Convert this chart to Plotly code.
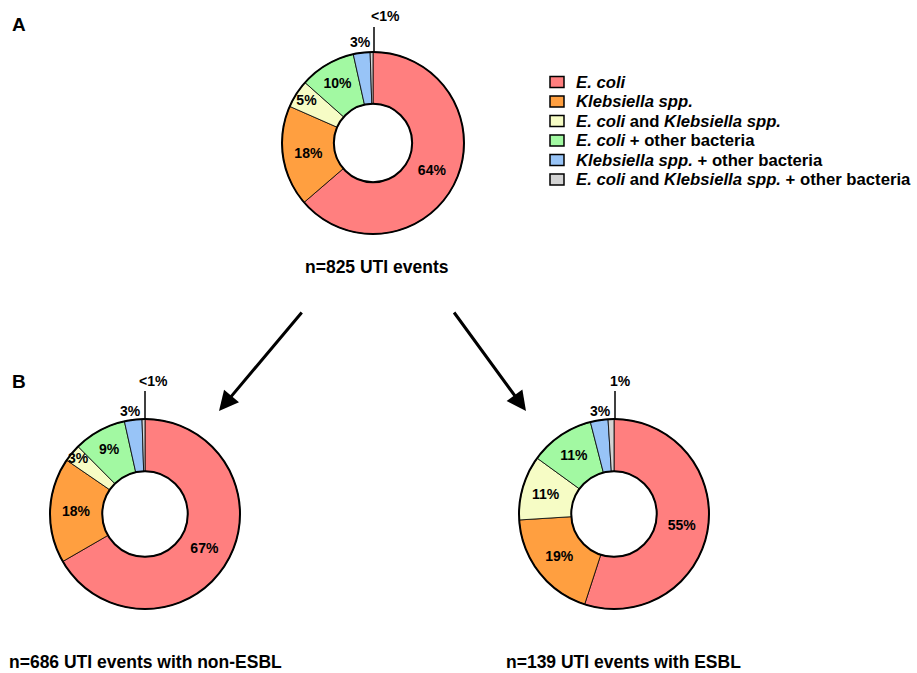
import plotly.graph_objects as go

W, H = 917, 673

labels = [
    "<i>E. coli</i>",
    "<i>Klebsiella spp.</i>",
    "<i>E. coli</i> and <i>Klebsiella spp.</i>",
    "<i>E. coli</i> + other bacteria",
    "<i>Klebsiella spp.</i> + other bacteria",
    "<i>E. coli</i> and <i>Klebsiella spp.</i> + other bacteria",
]
colors = ["#FF7F7F", "#FF9F40", "#F6FCC5", "#A2F9A2", "#98C4F7", "#D4D4D4"]

# percentages
all_vals = [64, 18, 5, 10, 3, 0.5]
all_text = ["64%", "18%", "5%", "10%", "3%", "<1%"]
non_esbl_vals = [67, 18, 3, 9, 3, 0.5]
non_esbl_text = ["67%", "18%", "3%", "9%", "3%", "<1%"]
esbl_vals = [55, 19, 11, 11, 3, 1]
esbl_text = ["55%", "19%", "11%", "11%", "3%", "1%"]

titles = ["n=825 UTI events", "n=686 UTI events with non-ESBL", "n=139 UTI events with ESBL"]

FONT = "Liberation Sans, Arial, sans-serif"


def px(x):
    return x / W


def py(y):
    return 1 - y / H


def dom(cx, cy, r):
    return dict(x=[px(cx - r), px(cx + r)], y=[py(cy + r), py(cy - r)])


pies = [
    (all_vals, all_text, (373, 143, 91), 0.43),
    (non_esbl_vals, non_esbl_text, (145, 514, 95), 0.45),
    (esbl_vals, esbl_text, (614, 514, 95), 0.45),
]

fig = go.Figure()
for vals, txt, (cx, cy, r), hole in pies:
    d = dom(cx, cy, r)
    fig.add_trace(go.Pie(
        labels=labels, values=vals, text=txt, textinfo="text",
        textposition=["inside", "inside", "inside", "inside", "none", "none"],
        insidetextorientation="horizontal",
        textfont=dict(family=FONT, size=14, color="black", weight="bold"),
        marker=dict(colors=colors, line=dict(color="black", width=0.8)),
        sort=False, direction="clockwise", rotation=0, hole=hole,
        domain=d, showlegend=False, hoverinfo="label+text",
    ))
    # outer / inner border rings
    fig.add_trace(go.Pie(
        labels=["ring"], values=[1], textinfo="none", hole=hole,
        marker=dict(colors=["rgba(0,0,0,0)"], line=dict(color="black", width=2)),
        domain=d, showlegend=False, hoverinfo="skip", sort=False,
    ))

annotations = []
shapes = []


def txt(x, y, s, xanchor="center", size=14):
    annotations.append(dict(
        x=px(x), y=py(y), xref="paper", yref="paper", text=s, showarrow=False,
        xanchor=xanchor, yanchor="middle",
        font=dict(family=FONT, size=size, color="black", weight="bold"),
    ))


# small-slice callouts
callouts = [
    (374, 27, 53, all_text[5], 385, 360, 42, 16),
    (145, 391, 420, non_esbl_text[5], 153, 130, 411, 381),
    (615, 391, 420, esbl_text[5], 620, 600, 411, 381),
]
for lx, ly0, ly1, small, sx, tx, ty, sy in callouts:
    shapes.append(dict(type="line", xref="paper", yref="paper",
                       x0=px(lx), x1=px(lx), y0=py(ly0), y1=py(ly1),
                       line=dict(color="black", width=1.5)))
    txt(sx, sy, small)
    txt(tx, ty, "3%")

txt(376.5, 267, titles[0], size=17.5)
txt(284, 662, titles[1], xanchor="right", size=17.5)
txt(504, 662, titles[2], xanchor="left", size=17.5)
txt(10, 25, "A", xanchor="left", size=19)
txt(10, 381, "B", xanchor="left", size=19)

# legend (drawn manually to match the compact row spacing)
LEG_X, LEG_Y0, LEG_DY = 550, 82, 19.5
for i, (lab, col) in enumerate(zip(labels, colors)):
    yc = LEG_Y0 + i * LEG_DY
    shapes.append(dict(type="rect", xref="paper", yref="paper",
                       x0=px(LEG_X), x1=px(LEG_X + 14), y0=py(yc + 5.5), y1=py(yc - 5.5),
                       fillcolor=col, line=dict(color="black", width=1.5)))
    txt(LEG_X + 24, yc, lab, xanchor="left", size=16.7)

# arrows
for (x0, y0, x1, y1) in [(303, 311, 219, 411), (453, 311, 526, 411)]:
    annotations.append(dict(
        x=px(x1), y=py(y1), xref="paper", yref="paper",
        ax=x0 - x1, ay=y0 - y1, axref="pixel", ayref="pixel",
        showarrow=True, arrowhead=2, arrowsize=1.3, arrowwidth=3,
        arrowcolor="black", text="", standoff=0,
    ))

fig.update_layout(
    width=W, height=H,
    margin=dict(l=0, r=0, t=0, b=0, autoexpand=False),
    paper_bgcolor="white", plot_bgcolor="white",
    uniformtext=dict(minsize=14, mode="show"),
    annotations=annotations, shapes=shapes,
    showlegend=False,
    font=dict(family=FONT),
)

fig.write_html("out.html")
